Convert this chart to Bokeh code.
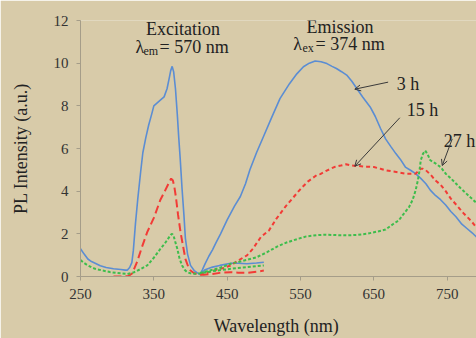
import math
from bokeh.plotting import figure
from bokeh.models import Label, Arrow, OpenHead, FixedTicker
from bokeh.embed import file_html
from bokeh.resources import INLINE

# ---------------- data ----------------
# Excitation spectra (lambda_em = 570 nm)
exc_wl_3h = [250, 255, 260, 265, 270, 277, 285, 295, 305, 311, 314, 317, 320, 322, 325, 328, 332, 335,
             339, 343, 347, 350, 355, 360, 364, 368, 371, 373, 375, 377, 379.5, 382, 384, 386, 388.5,
             391, 393, 396, 400, 405, 409, 413, 416, 420, 430, 440, 455, 465, 477, 490, 500]
exc_3h = [1.3, 1.05, 0.82, 0.7, 0.62, 0.5, 0.42, 0.36, 0.33, 0.3, 0.3, 0.42, 0.65, 1.2, 2.5, 3.6, 4.9, 5.8,
          6.5, 7.1, 7.6, 8.0, 8.15, 8.3, 8.42, 8.8, 9.3, 9.65, 9.85, 9.6, 8.8, 7.6, 6.5, 5.5, 4.1,
          2.9, 1.8, 1.05, 0.52, 0.28, 0.18, 0.09, 0.18, 0.32, 0.44, 0.52, 0.62, 0.62, 0.6, 0.63, 0.67]

exc_wl_15h = [295, 305, 315, 320, 323, 327, 334, 341, 350, 359, 365, 370, 373.6, 376, 378, 380, 383,
              386.4, 390, 393, 397, 400, 405, 410, 418, 430, 440, 455, 465, 477, 490, 500]
exc_15h = [0.0, 0.0, 0.02, 0.13, 0.35, 0.67, 1.4, 2.08, 2.75, 3.6, 4.0, 4.35, 4.59, 4.5, 4.2, 3.75, 2.9,
           2.08, 1.4, 0.83, 0.45, 0.28, 0.15, 0.1, 0.08, 0.12, 0.17, 0.2, 0.18, 0.17, 0.22, 0.28]

exc_wl_27h = [250, 255, 260, 265, 270, 280, 290, 300, 314, 323, 332, 341, 350, 359, 365, 370, 373, 375,
              377, 379, 382, 385, 388.5, 392, 395.5, 400, 405, 413, 430, 455, 477, 500]
exc_27h = [0.77, 0.63, 0.52, 0.43, 0.36, 0.28, 0.21, 0.16, 0.12, 0.2, 0.35, 0.52, 0.88, 1.3, 1.55, 1.8,
           1.95, 2.0, 1.9, 1.65, 1.3, 0.85, 0.52, 0.32, 0.2, 0.15, 0.13, 0.15, 0.25, 0.36, 0.44, 0.52]

# Emission spectra (lambda_ex = 374 nm)
em_wl_3h = [413, 416, 420, 425, 430, 435, 441, 450, 460, 468, 475, 481, 490, 500, 510, 522, 535, 545,
            554, 562, 570, 578, 586, 593, 599, 606, 613, 620, 627, 635, 645, 652, 659, 666, 673, 680,
            686, 693, 700, 707, 714, 721, 727, 734, 741, 748, 755, 762, 770, 777, 784, 790, 800]
em_3h = [0.09, 0.3, 0.6, 0.95, 1.25, 1.6, 2.0, 2.65, 3.3, 3.75, 4.35, 5.0, 5.8, 6.6, 7.4, 8.34, 9.04, 9.5,
         9.83, 10.0, 10.1, 10.07, 9.98, 9.85, 9.75, 9.6, 9.44, 9.15, 8.8, 8.4, 7.95, 7.5, 6.95, 6.45, 6.1, 5.76,
         5.5, 5.13, 4.98, 4.82, 4.6, 4.35, 4.05, 3.8, 3.6, 3.35, 3.05, 2.8, 2.45, 2.25, 2.05, 1.85, 1.6]

em_wl_15h = [413, 420, 432, 445, 455, 465, 477, 485, 490, 496, 507, 517, 530, 545, 550, 560, 572, 577,
             585, 596, 605, 612, 620, 628, 640, 650, 659, 666, 677, 693, 707, 711, 714, 717, 721, 728,
             734, 741, 748, 755, 764, 773, 782, 790, 800]
em_15h = [0.08, 0.15, 0.28, 0.4, 0.52, 0.75, 0.99, 1.3, 1.55, 1.85, 2.16, 2.7, 3.3, 3.9, 4.1, 4.45, 4.75, 4.8,
          4.95, 5.13, 5.2, 5.26, 5.2, 5.18, 5.15, 5.13, 5.05, 4.98, 4.92, 4.82, 4.82, 4.95, 5.05, 5.05, 4.98, 4.75,
          4.5, 4.3, 4.0, 3.65, 3.3, 2.94, 2.63, 2.3, 2.0]

em_wl_27h = [413, 423, 440, 455, 477, 490, 505, 518, 530, 545, 558, 572, 585, 599, 613, 627, 640, 654,
             666, 676, 684, 691, 698, 703, 707, 710, 712, 714, 717, 720, 723, 727, 734, 741, 748, 755,
             768, 782, 790, 800]
em_27h = [0.16, 0.25, 0.4, 0.6, 0.78, 0.9, 1.15, 1.4, 1.58, 1.75, 1.88, 1.94, 1.96, 1.94, 1.93, 1.95, 2.0, 2.1,
          2.2, 2.45, 2.63, 2.95, 3.25, 3.6, 4.04, 4.5, 4.9, 5.45, 5.75, 5.9, 5.75, 5.45, 5.3, 5.13, 4.82, 4.6,
          4.15, 3.7, 3.45, 3.2]

x_ticks = [250, 350, 450, 550, 650, 750]
y_ticks = [0, 2, 4, 6, 8, 10, 12]

# ---------------- styling ----------------
BG = "#d8cba9"
FONT = "Liberation Serif"
TXT = "#222222"
BLUE = "#5b8dd3"
RED = "#f23b36"
GREEN = "#3dbd4c"

p = figure(width=476, height=338, output_backend="svg", toolbar_location=None,
           x_range=(250, 790), y_range=(0, 12),
           min_border_left=80, min_border_right=0, min_border_top=20, min_border_bottom=62)
p.background_fill_color = BG
p.border_fill_color = BG
p.outline_line_color = None
p.grid.visible = False

for ax in (p.xaxis, p.yaxis):
    ax.axis_line_color = "#a59d89"
    ax.major_tick_line_color = "#a59d89"
    ax.minor_tick_line_color = None
    ax.major_tick_in = 0
    ax.major_tick_out = 4
    ax.major_label_text_font = FONT
    ax.major_label_text_font_size = "15px"
    ax.major_label_text_color = "#333333"
    ax.axis_label_text_font = FONT
    ax.axis_label_text_font_size = "18px"
    ax.axis_label_text_font_style = "normal"
    ax.axis_label_text_color = TXT
p.xaxis.ticker = FixedTicker(ticks=x_ticks)
p.yaxis.ticker = FixedTicker(ticks=y_ticks)
p.xaxis.major_label_standoff = 8
p.yaxis.major_label_standoff = 8
p.xaxis.axis_label = "Wavelength  (nm)"
p.yaxis.axis_label = "PL Intensity (a.u.)"
p.xaxis.axis_label_standoff = 14
p.yaxis.axis_label_standoff = 20

# curves
p.line(exc_wl_3h, exc_3h, line_color=BLUE, line_width=1.6)
p.line(em_wl_3h, em_3h, line_color=BLUE, line_width=1.6)
p.line(exc_wl_15h, exc_15h, line_color=RED, line_width=2, line_dash="8 4")
p.line(em_wl_15h, em_15h, line_color=RED, line_width=2, line_dash="4 3")
p.line(exc_wl_27h, exc_27h, line_color=GREEN, line_width=2, line_dash="3 2")
p.line(em_wl_27h, em_27h, line_color=GREEN, line_width=2, line_dash="3 2")


def lab(x, y, text, size="18px", align="left", baseline="alphabetic"):
    p.add_layout(Label(x=x, y=y, text=text, text_font=FONT, text_font_size=size,
                       text_color=TXT, text_align=align, text_baseline=baseline))


# titles
lab(389.8, 11.62, "Excitation", align="center")
lab(325.0, 10.75, "λ")
lab(335.9, 10.55, "em", size="12px")
lab(357.7, 10.75, "= 570 nm")
lab(603.9, 11.69, "Emission", align="center")
lab(540.0, 10.91, "λ")
lab(552.7, 10.70, "ex", size="12px")
lab(570.5, 10.91, "= 374 nm")

# curve labels + arrows
lab(681.4, 9.03, "3 h")
lab(695.0, 7.81, "15 h")
lab(745.5, 6.37, "27 h")
for (xs, ys, xe, ye) in [(669.5, 9.11, 624.0, 8.78), (685.4, 7.44, 624.0, 5.17), (756.9, 6.45, 743.3, 5.2)]:
    p.add_layout(Arrow(x_start=xs, y_start=ys, x_end=xe, y_end=ye, line_color="#3a3a3a", line_width=1,
                       end=OpenHead(size=6, line_color="#3a3a3a", line_width=1)))

open("out.html", "w").write(file_html(p, INLINE))
